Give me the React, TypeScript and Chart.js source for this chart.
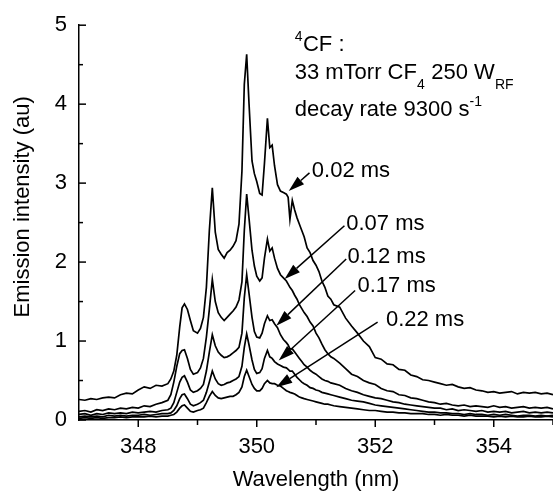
import React, { useEffect, useRef } from 'react';
import { Chart, registerables } from 'chart.js';

Chart.register(...registerables);

// ---- Data ----
const WAVELENGTH = [
  347.0, 347.1, 347.2, 347.3, 347.4, 347.5, 347.6, 347.7, 347.8, 347.9,
  348.0, 348.1, 348.2, 348.3, 348.4, 348.5, 348.55, 348.6, 348.65, 348.7,
  348.74, 348.78, 348.83, 348.88, 348.93, 349.0, 349.05, 349.1, 349.15, 349.2,
  349.25, 349.3, 349.35, 349.4, 349.45, 349.5, 349.55, 349.6, 349.65, 349.7,
  349.75, 349.79, 349.83, 349.87, 349.92, 349.96, 350.0, 350.05, 350.09, 350.13,
  350.18, 350.22, 350.26, 350.3, 350.35, 350.4, 350.45, 350.5, 350.53, 350.56,
  350.6, 350.64, 350.68, 350.72, 350.76, 350.8, 350.85, 350.9, 350.95, 351.0,
  351.05, 351.1, 351.15, 351.2, 351.25, 351.3, 351.4, 351.5, 351.6, 351.7,
  351.8, 351.9, 352.0, 352.1, 352.2, 352.3, 352.4, 352.5, 352.6, 352.7,
  352.8, 352.9, 353.0, 353.1, 353.2, 353.3, 353.4, 353.5, 353.6, 353.7,
  353.8, 353.9, 354.0, 354.1, 354.2, 354.3, 354.4, 354.5, 354.6, 354.7,
  354.8, 354.9, 355.0,
];

const INTENSITY_002 = [
  0.26, 0.25, 0.27, 0.26, 0.28, 0.29, 0.28, 0.32, 0.34, 0.33,
  0.38, 0.42, 0.40, 0.44, 0.43, 0.46, 0.52, 0.62, 0.82, 1.18,
  1.42, 1.47, 1.40, 1.26, 1.13, 1.10, 1.16, 1.30, 1.68, 2.40,
  2.94, 2.38, 2.16, 2.10, 2.05, 2.12, 2.15, 2.20, 2.27, 2.48,
  3.15, 4.25, 4.63, 4.00, 3.28, 3.12, 3.02, 2.87, 2.85, 3.25,
  3.82, 3.45, 3.48, 3.22, 2.98, 2.90, 2.88, 2.86, 2.82, 2.54,
  2.78, 2.66, 2.56, 2.48, 2.40, 2.32, 2.18, 2.12, 2.02, 1.96,
  1.88, 1.76, 1.68, 1.57, 1.53, 1.46, 1.43, 1.29, 1.19, 1.10,
  1.00, 0.93, 0.79, 0.77, 0.71, 0.70, 0.64, 0.63, 0.57, 0.55,
  0.51, 0.50, 0.48, 0.46, 0.44, 0.45, 0.42, 0.40, 0.41, 0.38,
  0.37, 0.35, 0.36, 0.34, 0.35, 0.36, 0.33, 0.35, 0.34, 0.35,
  0.33, 0.34, 0.32,
];

const INTENSITY_007 = [
  0.11, 0.12, 0.10, 0.13, 0.12, 0.14, 0.13, 0.15, 0.14, 0.16,
  0.15, 0.18, 0.17, 0.20, 0.22, 0.25, 0.32, 0.48, 0.68, 0.84,
  0.88, 0.89, 0.78, 0.64, 0.58, 0.60, 0.66, 0.78, 1.05, 1.40,
  1.78, 1.50, 1.36, 1.30, 1.26, 1.30, 1.34, 1.38, 1.43, 1.52,
  1.75, 2.40, 2.86, 2.55, 2.15, 1.95, 1.82, 1.76, 1.80, 2.05,
  2.29, 2.14, 2.18, 2.05, 1.92, 1.84, 1.80, 1.76, 1.72, 1.68,
  1.64, 1.58, 1.53, 1.46, 1.41, 1.36, 1.31, 1.24, 1.19, 1.10,
  1.04, 0.96, 0.89, 0.84, 0.80, 0.78, 0.72, 0.65, 0.58, 0.55,
  0.50, 0.47, 0.45, 0.40, 0.37, 0.36, 0.32, 0.31, 0.28, 0.27,
  0.25, 0.23, 0.22, 0.20, 0.21, 0.19, 0.18, 0.19, 0.17, 0.18,
  0.17, 0.16, 0.18, 0.16, 0.17, 0.15, 0.16, 0.17, 0.15, 0.16,
  0.15, 0.16, 0.14,
];

const INTENSITY_012 = [
  0.07, 0.08, 0.06, 0.08, 0.07, 0.09, 0.08, 0.09, 0.08, 0.10,
  0.09, 0.10, 0.11, 0.10, 0.12, 0.13, 0.15, 0.22, 0.35, 0.48,
  0.54, 0.56, 0.48, 0.38, 0.35, 0.37, 0.40, 0.45, 0.62, 0.86,
  1.08, 0.94, 0.86, 0.82, 0.79, 0.80, 0.82, 0.85, 0.88, 0.92,
  1.10, 1.55, 1.84, 1.60, 1.30, 1.12, 1.05, 1.04, 1.10, 1.22,
  1.32, 1.26, 1.27, 1.22, 1.17, 1.08, 1.02, 0.98, 0.95, 0.90,
  0.90, 0.86, 0.82, 0.78, 0.74, 0.70, 0.67, 0.63, 0.60, 0.58,
  0.55, 0.52, 0.50, 0.49, 0.47, 0.46, 0.44, 0.40, 0.37, 0.35,
  0.32, 0.30, 0.28, 0.27, 0.25, 0.23, 0.22, 0.20, 0.19, 0.18,
  0.17, 0.16, 0.15, 0.15, 0.13, 0.14, 0.12, 0.13, 0.12, 0.11,
  0.12, 0.10, 0.11, 0.10, 0.11, 0.09, 0.10, 0.11, 0.09, 0.10,
  0.09, 0.10, 0.09,
];

const INTENSITY_017 = [
  0.04, 0.05, 0.04, 0.05, 0.04, 0.06, 0.05, 0.06, 0.05, 0.06,
  0.06, 0.07, 0.06, 0.07, 0.08, 0.08, 0.09, 0.12, 0.18, 0.27,
  0.32, 0.33, 0.27, 0.20, 0.18, 0.20, 0.22, 0.25, 0.35, 0.48,
  0.62, 0.52, 0.46, 0.44, 0.45, 0.47, 0.48, 0.50, 0.52, 0.55,
  0.68, 0.92, 1.09, 0.95, 0.76, 0.64, 0.59, 0.60, 0.65, 0.78,
  0.88, 0.80, 0.78, 0.74, 0.71, 0.69, 0.67, 0.66, 0.64, 0.62,
  0.62, 0.58, 0.54, 0.51, 0.48, 0.46, 0.44, 0.41, 0.40, 0.38,
  0.37, 0.35, 0.34, 0.33, 0.32, 0.31, 0.29, 0.27, 0.25, 0.24,
  0.23, 0.21, 0.19, 0.18, 0.17, 0.16, 0.15, 0.14, 0.13, 0.12,
  0.11, 0.10, 0.10, 0.09, 0.09, 0.08, 0.08, 0.07, 0.08, 0.07,
  0.07, 0.06, 0.07, 0.06, 0.07, 0.06, 0.05, 0.06, 0.06, 0.05,
  0.06, 0.05, 0.06,
];

const INTENSITY_022 = [
  0.02, 0.03, 0.02, 0.03, 0.02, 0.03, 0.03, 0.04, 0.03, 0.04,
  0.04, 0.04, 0.05, 0.04, 0.05, 0.05, 0.06, 0.07, 0.10, 0.15,
  0.18, 0.19, 0.15, 0.11, 0.10, 0.12, 0.13, 0.15, 0.22, 0.30,
  0.36, 0.31, 0.28, 0.27, 0.28, 0.29, 0.30, 0.30, 0.32, 0.35,
  0.42, 0.55, 0.63, 0.55, 0.45, 0.40, 0.37, 0.37, 0.40, 0.46,
  0.50, 0.47, 0.46, 0.46, 0.44, 0.43, 0.40, 0.37, 0.36, 0.35,
  0.34, 0.33, 0.31, 0.29, 0.28, 0.27, 0.26, 0.25, 0.24, 0.23,
  0.22, 0.21, 0.20, 0.20, 0.19, 0.18, 0.17, 0.16, 0.15, 0.14,
  0.13, 0.12, 0.12, 0.11, 0.10, 0.10, 0.09, 0.09, 0.08, 0.08,
  0.08, 0.07, 0.07, 0.06, 0.07, 0.06, 0.06, 0.05, 0.06, 0.05,
  0.05, 0.05, 0.04, 0.05, 0.04, 0.05, 0.04, 0.04, 0.05, 0.04,
  0.04, 0.05, 0.04,
];

const SERIES_LABELS = ['0.02 ms', '0.07 ms', '0.12 ms', '0.17 ms', '0.22 ms'];
const SERIES_VALUES = [INTENSITY_002, INTENSITY_007, INTENSITY_012, INTENSITY_017, INTENSITY_022];

const X_MAJOR_TICKS = [348, 350, 352, 354];
const X_MINOR_TICKS = [349, 351, 353, 355];
const Y_MAJOR_TICKS = [0, 1, 2, 3, 4, 5];
const Y_MINOR_TICKS = [0.5, 1.5, 2.5, 3.5, 4.5];

const X_TITLE = 'Wavelength (nm)';
const Y_TITLE = 'Emission intensity (au)';

// annotation anchors in data units (wavelength, intensity)
const LABEL_ANCHORS = [
  [350.93, 3.08],
  [351.51, 2.41],
  [351.53, 1.99],
  [351.70, 1.62],
  [352.18, 1.19],
];
const ARROW_TAILS = [
  [350.89, 3.13],
  [351.48, 2.46],
  [351.51, 2.04],
  [351.66, 1.64],
  [352.04, 1.24],
];
const ARROW_TIPS = [
  [350.54, 2.90],
  [350.47, 1.785],
  [350.33, 1.195],
  [350.37, 0.752],
  [350.33, 0.415],
];
const NOTE_ANCHOR = [350.64, 4.67];
const NOTE_LINE_STEPS = [0, 0.35, 0.82];
const Y_TITLE_CENTER = 2.7; // intensity value at the title's centre

const FONT = "'Liberation Sans', Arial, Helvetica, sans-serif";

type Run = { t: string; mode?: 'sup' | 'sub' };
const NOTE_LINES: Run[][] = [
  [{ t: '4', mode: 'sup' }, { t: 'CF :' }],
  [{ t: '33 mTorr CF' }, { t: '4', mode: 'sub' }, { t: ' 250 W' }, { t: 'RF', mode: 'sub' }],
  [{ t: 'decay rate 9300 s' }, { t: '-1', mode: 'sup' }],
];

function drawRuns(ctx: CanvasRenderingContext2D, runs: Run[], x0: number, y0: number) {
  let x = x0;
  for (const r of runs) {
    if (r.mode) {
      ctx.font = `14px ${FONT}`;
      const dy = r.mode === 'sup' ? -10.5 : 10;
      ctx.fillText(r.t, x, y0 + dy);
      x += ctx.measureText(r.t).width + 0.5;
    } else {
      ctx.font = `22px ${FONT}`;
      ctx.fillText(r.t, x, y0);
      x += ctx.measureText(r.t).width;
    }
  }
}

const annotationPlugin = {
  id: 'annotations',
  afterDraw(chart: any) {
    const { ctx, chartArea } = chart;
    const xs = chart.scales.x;
    const ys = chart.scales.y;
    ctx.save();
    ctx.strokeStyle = '#000';
    ctx.fillStyle = '#000';
    ctx.lineWidth = 1.5;
    ctx.lineCap = 'butt';

    const tickLine = (x1: number, y1: number, x2: number, y2: number) => {
      ctx.beginPath();
      ctx.moveTo(x1, y1);
      ctx.lineTo(x2, y2);
      ctx.stroke();
    };
    // y ticks (inward)
    Y_MAJOR_TICKS.forEach((v) => {
      const py = ys.getPixelForValue(v);
      tickLine(chartArea.left, py, chartArea.left + 7, py);
    });
    Y_MINOR_TICKS.forEach((v) => {
      const py = ys.getPixelForValue(v);
      tickLine(chartArea.left, py, chartArea.left + 4, py);
    });
    // x ticks (outward)
    X_MAJOR_TICKS.forEach((v) => {
      const px = xs.getPixelForValue(v);
      tickLine(px, chartArea.bottom, px, chartArea.bottom + 7);
    });
    X_MINOR_TICKS.forEach((v) => {
      const px = xs.getPixelForValue(v);
      tickLine(px, chartArea.bottom, px, chartArea.bottom + 5);
    });

    // y axis title
    ctx.save();
    ctx.translate(23, ys.getPixelForValue(Y_TITLE_CENTER));
    ctx.rotate(-Math.PI / 2);
    ctx.font = `22px ${FONT}`;
    ctx.textAlign = 'center';
    ctx.textBaseline = 'middle';
    ctx.fillText(Y_TITLE, 0, 0);
    ctx.restore();

    // note block
    ctx.textAlign = 'left';
    ctx.textBaseline = 'alphabetic';
    NOTE_LINES.forEach((line, i) => {
      const px = xs.getPixelForValue(NOTE_ANCHOR[0]);
      const py = ys.getPixelForValue(NOTE_ANCHOR[1] - NOTE_LINE_STEPS[i]);
      drawRuns(ctx, line, px, py);
    });

    // series labels
    ctx.font = `22px ${FONT}`;
    SERIES_LABELS.forEach((lab, i) => {
      const px = xs.getPixelForValue(LABEL_ANCHORS[i][0]);
      const py = ys.getPixelForValue(LABEL_ANCHORS[i][1]);
      ctx.fillText(lab, px, py);
    });

    // arrows
    ARROW_TIPS.forEach((tip, i) => {
      const tx = xs.getPixelForValue(ARROW_TAILS[i][0]);
      const ty = ys.getPixelForValue(ARROW_TAILS[i][1]);
      const hx = xs.getPixelForValue(tip[0]);
      const hy = ys.getPixelForValue(tip[1]);
      const ang = Math.atan2(hy - ty, hx - tx);
      const headLen = 16;
      const headHalf = 5;
      const bx = hx - headLen * Math.cos(ang);
      const by = hy - headLen * Math.sin(ang);
      ctx.lineWidth = 1.5;
      ctx.beginPath();
      ctx.moveTo(tx, ty);
      ctx.lineTo(bx, by);
      ctx.stroke();
      ctx.beginPath();
      ctx.moveTo(hx, hy);
      ctx.lineTo(bx + headHalf * Math.sin(ang), by - headHalf * Math.cos(ang));
      ctx.lineTo(bx - headHalf * Math.sin(ang), by + headHalf * Math.cos(ang));
      ctx.closePath();
      ctx.fill();
    });
    ctx.restore();
  },
};

export default function App() {
  const canvasRef = useRef<HTMLCanvasElement | null>(null);

  useEffect(() => {
    if (!canvasRef.current) return;
    const datasets = SERIES_VALUES.map((vals, si) => ({
      label: SERIES_LABELS[si],
      data: WAVELENGTH.map((w, i) => ({ x: w, y: vals[i] })),
      borderColor: '#000',
      backgroundColor: '#000',
      borderWidth: 1.7,
      pointRadius: 0,
      fill: false,
      tension: 0,
    }));
    const chart = new Chart(canvasRef.current, {
      type: 'line',
      data: { datasets },
      plugins: [annotationPlugin],
      options: {
        responsive: false,
        animation: false,
        devicePixelRatio: 1,
        layout: { padding: { top: 24, right: 0, bottom: 0, left: 0 } },
        plugins: {
          legend: { display: false },
          tooltip: { enabled: false },
        },
        scales: {
          x: {
            type: 'linear',
            min: 347,
            max: 355,
            afterBuildTicks: (s: any) => {
              s.ticks = X_MAJOR_TICKS.map((v) => ({ value: v }));
            },
            afterFit: (s: any) => {
              s.height = 72;
            },
            grid: { display: false, drawTicks: false },
            border: { display: true, color: '#000', width: 1.5 },
            ticks: {
              color: '#000',
              font: { family: FONT, size: 22 },
              padding: 14,
              maxRotation: 0,
              autoSkip: false,
            },
            title: {
              display: true,
              text: X_TITLE,
              color: '#000',
              font: { family: FONT, size: 22, lineHeight: 1 },
              padding: { top: 0, bottom: 1 },
            },
          },
          y: {
            type: 'linear',
            min: 0,
            max: 5,
            afterBuildTicks: (s: any) => {
              s.ticks = Y_MAJOR_TICKS.map((v) => ({ value: v }));
            },
            afterFit: (s: any) => {
              s.width = 79;
            },
            grid: { display: false, drawTicks: false },
            border: { display: true, color: '#000', width: 1.5 },
            ticks: {
              color: '#000',
              font: { family: FONT, size: 22 },
              padding: 12,
            },
            title: { display: false },
          },
        },
      },
    } as any);
    return () => chart.destroy();
  }, []);

  return (
    <div style={{ position: 'absolute', left: 0, top: 0, width: 553, height: 492, background: '#fff' }}>
      <canvas ref={canvasRef} width={553} height={492} style={{ display: 'block', width: 553, height: 492 }} />
    </div>
  );
}
